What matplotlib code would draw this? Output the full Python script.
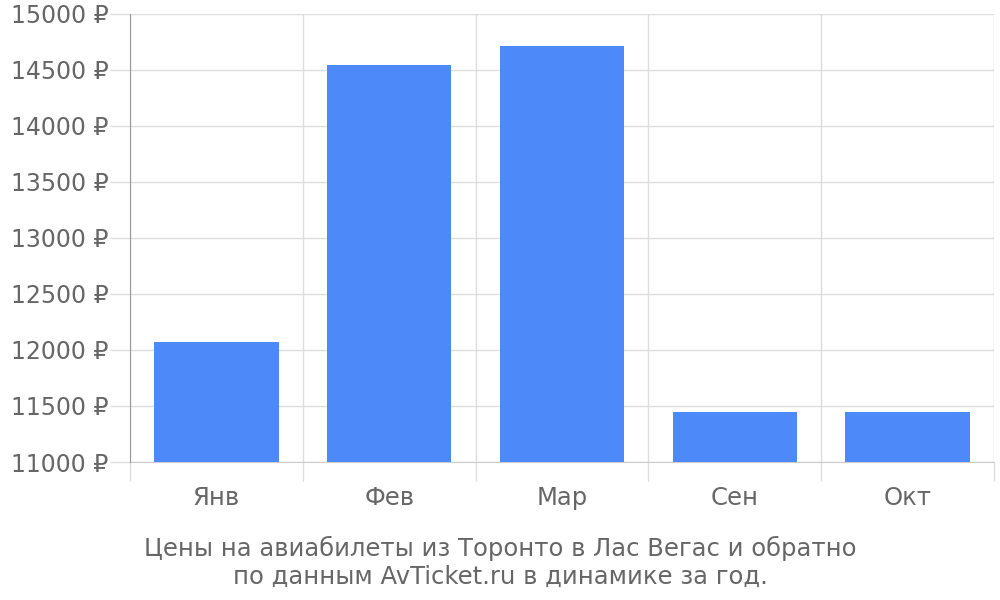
import matplotlib
matplotlib.use("Agg")
import matplotlib.pyplot as plt
import numpy as np

categories = ["Янв", "Фев", "Мар", "Сен", "Окт"]
prices = [12070, 14545, 14712, 11445, 11445]
y_ticks = [11000, 11500, 12000, 12500, 13000, 13500, 14000, 14500, 15000]
caption = "Цены на авиабилеты из Торонто в Лас Вегас и обратно\nпо данным AvTicket.ru в динамике за год."

plt.rcParams['font.family'] = ['DejaVu Sans']
fig = plt.figure(figsize=(10, 6), dpi=100)
ax = fig.add_axes([0.13, 0.23, 0.864, 0.7467])

x = np.arange(len(categories))
ax.bar(x, prices, width=0.72, color="#4d89f9", zorder=3)

ax.set_xlim(-0.5, len(categories) - 0.5)
ax.set_ylim(y_ticks[0], y_ticks[-1])
ax.set_yticks(y_ticks)
ax.set_yticklabels([f"{v} ₽" for v in y_ticks])
ax.set_xticks(x)
ax.set_xticklabels(categories)
ax.set_xticks(np.arange(-0.5, len(categories)), minor=True)

grid_c = "#dddddd"
ax.grid(axis="y", which="major", color=grid_c, linewidth=1, zorder=0)
ax.grid(axis="x", which="minor", color=grid_c, linewidth=1, zorder=0)
ax.tick_params(axis="y", which="major", length=14.4, color=grid_c, width=1,
               labelsize=17, labelcolor="#666666", pad=1)
ax.tick_params(axis="x", which="major", length=0, labelsize=17.5,
               labelcolor="#666666", pad=17.5)
ax.tick_params(axis="x", which="minor", length=13.7, color=grid_c, width=1)

for s in ["top", "right"]:
    ax.spines[s].set_visible(False)
ax.spines["left"].set_color("#999999")
ax.spines["bottom"].set_color("#cccccc")
ax.spines["left"].set_zorder(4)

fig.text(0.5, 1 - 562 / 600, caption, ha="center", va="center",
         fontsize=17.5, color="#666666", linespacing=1.2)

fig.savefig("out.png", dpi=100, facecolor="white")
